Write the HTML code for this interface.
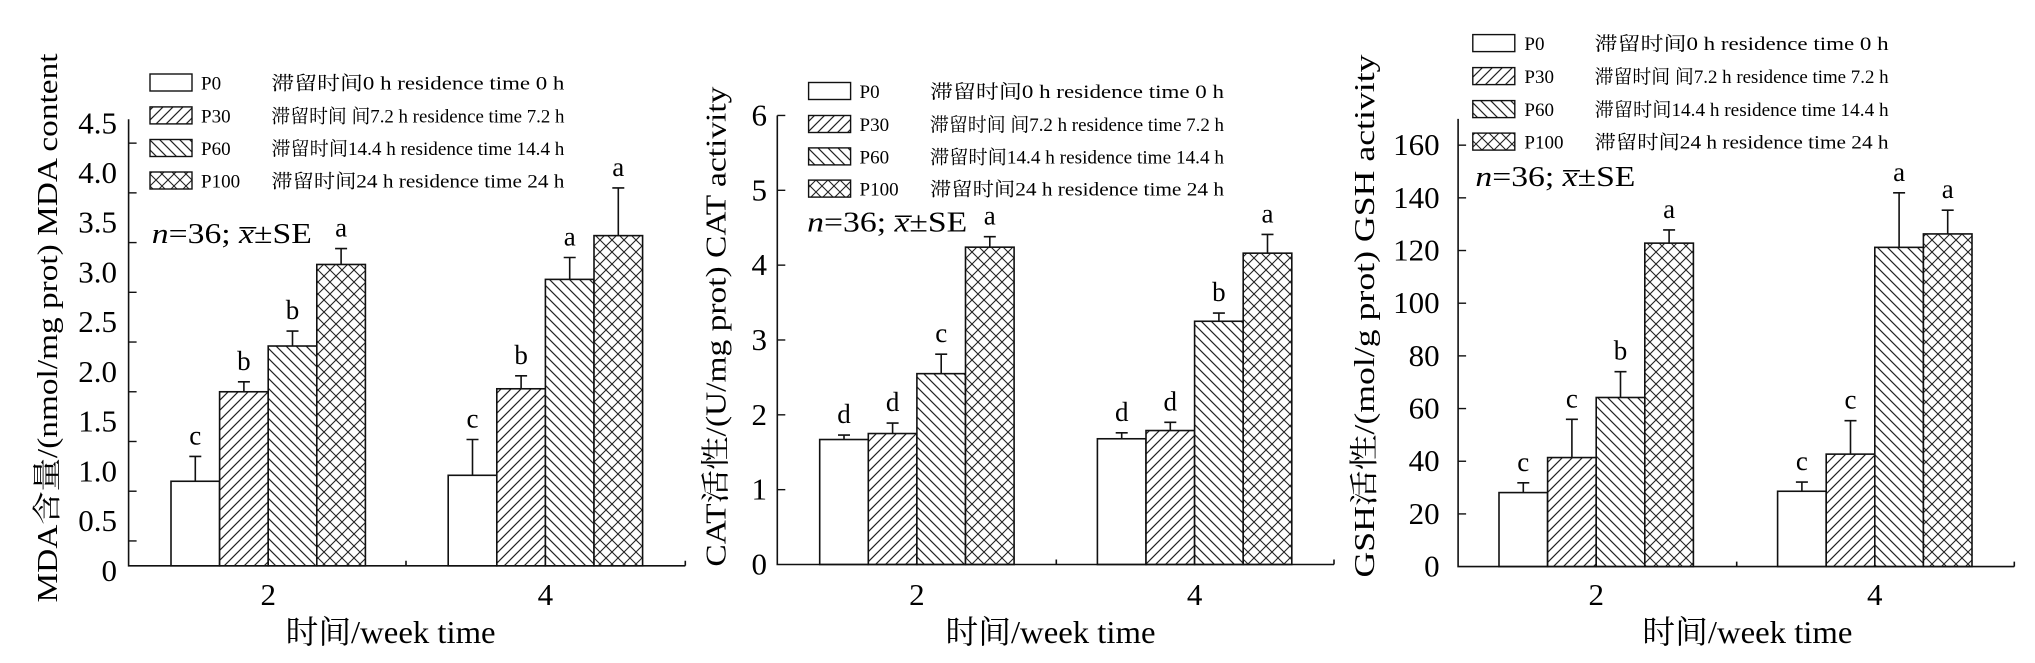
<!DOCTYPE html>
<html><head><meta charset="utf-8">
<style>
html,body{margin:0;padding:0;background:#fff;}
svg{display:block;font-family:"Liberation Serif","Noto Serif CJK SC",serif;}
</style></head>
<body>
<svg id="chart" width="2035" height="663" viewBox="0 0 2035 663" xmlns="http://www.w3.org/2000/svg">
<defs>
<pattern id="p30" patternUnits="userSpaceOnUse" width="10" height="10"><rect width="10" height="10" fill="#fff"/><path d="M-2,12 L12,-2 M-2,2 L2,-2 M8,12 L12,8" stroke="#222" stroke-width="1.2"/></pattern>
<pattern id="p60" patternUnits="userSpaceOnUse" width="10" height="10"><rect width="10" height="10" fill="#fff"/><path d="M-2,-2 L12,12 M-2,8 L2,12 M8,-2 L12,2" stroke="#222" stroke-width="1.2"/></pattern>
<pattern id="p100" patternUnits="userSpaceOnUse" width="12" height="12"><rect width="12" height="12" fill="#fff"/><path d="M-2,-2 L14,14 M-2,14 L14,-2" stroke="#222" stroke-width="1.1"/></pattern>
</defs>
</svg>
<script>
// ---- data ----
const categories = ["2", "4"];
const seriesNames = ["P0", "P30", "P60", "P100"];
const seriesDesc = ["滞留时间0 h residence time 0 h", "滞留时间 间7.2 h residence time 7.2 h", "滞留时间14.4 h residence time 14.4 h", "滞留时间24 h residence time 24 h"];
const mdaValues = [[0.85, 0.91], [1.75, 1.78], [2.21, 2.88], [3.03, 3.32]];
const mdaErrors = [[0.25, 0.36], [0.10, 0.13], [0.15, 0.22], [0.16, 0.48]];
const mdaLetters = [["c", "c"], ["b", "b"], ["b", "a"], ["a", "a"]];
const mdaTickLabels = ["0", "0.5", "1.0", "1.5", "2.0", "2.5", "3.0", "3.5", "4.0", "4.5"];
const catValues = [[1.67, 1.68], [1.75, 1.79], [2.55, 3.25], [4.24, 4.16]];
const catErrors = [[0.06, 0.08], [0.14, 0.11], [0.26, 0.11], [0.14, 0.25]];
const catLetters = [["d", "d"], ["d", "d"], ["c", "b"], ["a", "a"]];
const catTickLabels = ["0", "1", "2", "3", "4", "5", "6"];
const gshValues = [[28.1, 28.6], [41.4, 42.7], [64.2, 121.2], [122.8, 126.3]];
const gshErrors = [[3.7, 3.5], [14.5, 12.7], [9.8, 20.7], [5.0, 9.0]];
const gshLetters = [["c", "c"], ["c", "c"], ["b", "a"], ["a", "a"]];
const gshTickLabels = ["0", "20", "40", "60", "80", "100", "120", "140", "160"];

const NS = "http://www.w3.org/2000/svg";
const svg = document.getElementById("chart");
const fills = ["#fff", "url(#p30)", "url(#p60)", "url(#p100)"];
function mk(tag, attrs, parent) {
  const e = document.createElementNS(NS, tag);
  for (const k in attrs) e.setAttribute(k, attrs[k]);
  (parent || svg).appendChild(e);
  return e;
}
function txt(s, attrs, parent) { const e = mk("text", attrs, parent); e.textContent = s; return e; }

const panels = [
 {key:"mda", values:mdaValues, errors:mdaErrors, letters:mdaLetters, ticks:mdaTickLabels, tickStep:0.5, tickOffset:0.25, labelDy:5,
  x0:128.6, x1:685.3, base:565.8, unit:99.45, top:4.49, midTick:406,
  groupLeft:[171,448.2], barW:48.6,
  legBox:150, legP:201, legD:271.4, legDW:293, legY:[82.5,115.4,148,180.5],
  nx:151.8, ny:243, tickRight:117, ytitle:"MDA含量/(nmol/mg prot) MDA content", ytx:46.9, yty:328, ytw:549, xtx:390.6},
 {key:"cat", values:catValues, errors:catErrors, letters:catLetters, ticks:catTickLabels, tickStep:1, tickOffset:0, labelDy:0,
  x0:777.3, x1:1334, base:564.5, unit:74.84, top:6, midTick:1056.3,
  groupLeft:[819.7,1097.4], barW:48.6,
  legBox:808.6, legP:859.5, legD:930, legDW:294, legY:[91,124,156.4,188.6],
  nx:807.2, ny:231.7, tickRight:767, ytitle:"CAT活性/(U/mg prot) CAT activity", ytx:715.7, yty:326.6, ytw:480, xtx:1050.5},
 {key:"gsh", values:gshValues, errors:gshErrors, letters:gshLetters, ticks:gshTickLabels, tickStep:20, tickOffset:0, labelDy:0,
  x0:1458.1, x1:2014.3, base:566.6, unit:2.634, top:170, midTick:1736.7,
  groupLeft:[1499,1777.6], barW:48.6,
  legBox:1472.8, legP:1524.4, legD:1594.6, legDW:294, legY:[43.1,76.1,109.1,141.6],
  nx:1475.4, ny:186, tickRight:1439.6, ytitle:"GSH活性/(mol/g prot) GSH activity", ytx:1364, yty:316, ytw:523, xtx:1747.4}
];

panels.forEach(p => {
  const g = mk("g", {});
  
  
  const y = v => p.base - v * p.unit;
  // bars
  p.values.forEach((ser, si) => {
    ser.forEach((v, ci) => {
      const bx = p.groupLeft[ci] + si * p.barW;
      const top = y(v), et = y(v + p.errors[si][ci]);
      const cx = bx + p.barW / 2;
      const eb = mk("path", {d:`M${cx},${top} V${et} M${cx-6},${et} H${cx+6}`, stroke:"#111", "stroke-width":1.6, fill:"none"}, g);
      
      
      const r = mk("rect", {x:bx, y:top, width:p.barW, height:p.base - top, fill:fills[si], stroke:"#111", "stroke-width":1.6}, g);
      
      
      const l = txt(p.letters[si][ci], {x:cx, y:et - 12, "text-anchor":"middle", "font-size":27}, g);
      
      
    });
  });
  // axes
  const ax = mk("path", {d:`M${p.x0},${y(p.top)} V${p.base} H${p.x1} M${p.midTick},${p.base} v-5 M${p.x1},${p.base} v-5`, stroke:"#111", "stroke-width":1.6, fill:"none"}, g);
  
  
  p.ticks.forEach((t, i) => {
    const v = i * p.tickStep;
    const tv = v + p.tickOffset;
    if (tv > 0 && tv <= p.top + 0.001) {
      const tk = mk("line", {x1:p.x0, x2:p.x0 + 8, y1:y(tv), y2:y(tv), stroke:"#111", "stroke-width":1.4}, g);
      
      
    }
    const tl = txt(t, {x:p.tickRight, y:y(v) + p.labelDy + 10, "text-anchor":"end", "font-size":31}, g);
    
    
  });
  categories.forEach((c, ci) => {
    const cx = p.groupLeft[ci] + 2 * p.barW;
    const cl = txt(c, {x:cx, y:605, "text-anchor":"middle", "font-size":31}, g);
    
    
  });
  // titles
  const xt = txt("时间/week time", {x:p.xtx, y:643, "text-anchor":"middle", "font-size":32, textLength:210, lengthAdjust:"spacingAndGlyphs"}, g);
  
  
  const yt = txt(p.ytitle, {x:0, y:0, "text-anchor":"middle", "font-size":29, textLength:p.ytw, lengthAdjust:"spacingAndGlyphs", transform:`translate(${p.ytx + 10},${p.yty}) rotate(-90)`}, g);
  
  
  // legend
  seriesNames.forEach((s, si) => {
    const ly = p.legY[si];
    const lb = mk("rect", {x:p.legBox, y:ly - 8.5, width:42, height:17, fill:fills[si], stroke:"#111", "stroke-width":1.4}, g);
    
    
    const lp = txt(s, {x:p.legP, y:ly + 7, "font-size":19}, g);
    
    
    const ld = txt(seriesDesc[si], {x:p.legD, y:ly + 7, "font-size":19, textLength:p.legDW, lengthAdjust:"spacingAndGlyphs"}, g);
    
    
  });
  const nt = mk("text", {x:p.nx, y:p.ny, "font-size":29, textLength:160, lengthAdjust:"spacingAndGlyphs"}, g);
  
  
  nt.innerHTML = '<tspan font-style="italic">n</tspan>=36; <tspan font-style="italic">x&#773;</tspan>±SE';
});
</script>
</body></html>
